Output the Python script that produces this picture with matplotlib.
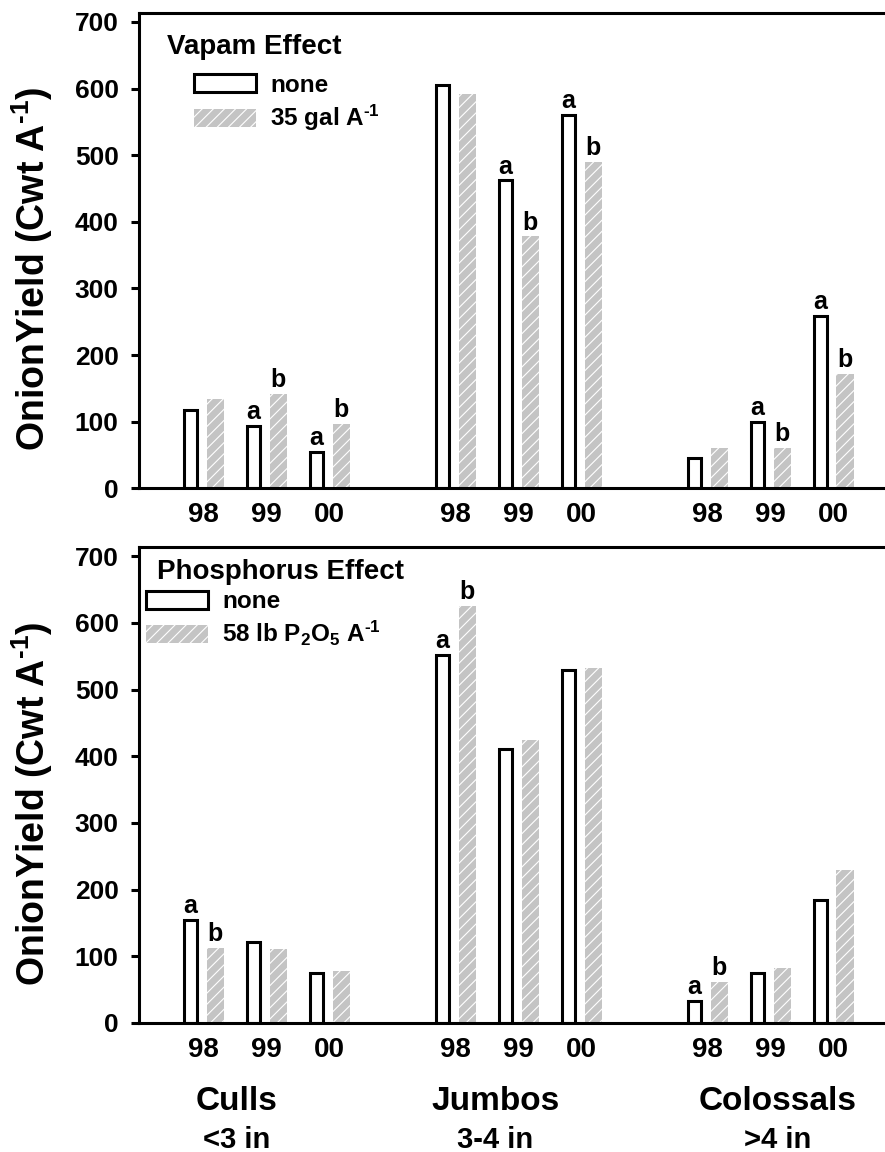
import matplotlib
matplotlib.use('Agg')
import matplotlib.pyplot as plt
from matplotlib.patches import Patch
import numpy as np

plt.rcParams['font.family'] = ['Liberation Sans', 'DejaVu Sans']
plt.rcParams['font.weight'] = 'bold'
plt.rcParams['mathtext.fontset'] = 'custom'
plt.rcParams['mathtext.rm'] = 'Liberation Sans:bold'
plt.rcParams['mathtext.bf'] = 'Liberation Sans:bold'
plt.rcParams['mathtext.default'] = 'bf'
plt.rcParams['hatch.linewidth'] = 0.8

# data
years = ['98', '99', '00']
groups = ['Culls', 'Jumbos', 'Colossals']
sizes = ['<3 in', '3-4 in', '>4 in']

vapam_none = [117, 94, 54, 605, 462, 560, 45, 100, 258]
vapam_35 = [134, 142, 97, 592, 378, 490, 61, 61, 171]
vapam_none_let = ['', 'a', 'a', '', 'a', 'a', '', 'a', 'a']
vapam_35_let = ['', 'b', 'b', '', 'b', 'b', '', 'b', 'b']

phos_none = [154, 122, 75, 552, 411, 530, 33, 75, 184]
phos_58 = [113, 111, 78, 625, 425, 533, 61, 83, 229]
phos_none_let = ['a', '', '', 'a', '', '', 'a', '', '']
phos_58_let = ['b', '', '', 'b', '', '', 'b', '', '']

xpos = np.array([g * 4 + i for g in range(3) for i in range(3)])
xlabels = years * 3

gray = '#c4c4c4'
lw = 2.2

fig = plt.figure(figsize=(8.85, 11.52), dpi=100)
ax1 = fig.add_axes([0.1576, 0.5761, 0.8424, 0.4130])
ax2 = fig.add_axes([0.1576, 0.1120, 0.8424, 0.4132])


def draw(ax, none, trt, none_let, trt_let):
    ax.bar(xpos - 0.205, none, width=0.2, facecolor='white', edgecolor='black', linewidth=lw, zorder=2)
    ax.bar(xpos + 0.19, trt, width=0.28, facecolor=gray, edgecolor='white', hatch='///', linewidth=0, zorder=2)
    for x, v, t in zip(xpos - 0.205, none, none_let):
        if t:
            ax.annotate(t, (x, v), xytext=(0, 5), textcoords='offset points', ha='center', va='baseline', fontsize=18, fontweight='bold')
    for x, v, t in zip(xpos + 0.19, trt, trt_let):
        if t:
            ax.annotate(t, (x, v), xytext=(0, 5), textcoords='offset points', ha='center', va='baseline', fontsize=18, fontweight='bold')
    ax.set_xlim(-1.016, 10.82)
    ax.set_ylim(0, 714)
    ax.set_yticks(range(0, 701, 100))
    ax.set_yticklabels([str(v) for v in range(0, 701, 100)], fontsize=19, fontweight='bold')
    ax.set_xticks(xpos, xlabels, fontsize=20, fontweight='bold')
    ax.tick_params(axis='x', length=0, pad=10)
    ax.tick_params(axis='y', direction='out', length=6, width=lw, pad=9)
    for s in ['left', 'top', 'bottom']:
        ax.spines[s].set_linewidth(lw)
    ax.spines['right'].set_visible(False)


draw(ax1, vapam_none, vapam_35, vapam_none_let, vapam_35_let)
draw(ax2, phos_none, phos_58, phos_none_let, phos_58_let)

ylab = r'OnionYield (Cwt A$^{\text{-}1}$)'
fig.text(0.036, 1 - 269 / 1152, ylab, rotation=90, ha='center', va='center', fontsize=27, fontweight='bold')
fig.text(0.036, 1 - 804 / 1152, ylab, rotation=90, ha='center', va='center', fontsize=27, fontweight='bold')

# legends
h_none = Patch(facecolor='white', edgecolor='black', linewidth=lw)
h_vap = Patch(facecolor=gray, edgecolor='white', hatch='///', linewidth=0)

ax1.text(0.0369, 0.927, 'Vapam Effect', transform=ax1.transAxes, ha='left', va='center', fontsize=20, fontweight='bold')
ax1.legend([h_none, h_vap], ['none', r'35 gal A$^{\text{-}1}$'], loc='upper left', bbox_to_anchor=(0.0731, 0.871),
           frameon=False, borderpad=0, borderaxespad=0, handlelength=2.54, handleheight=0.76,
           handletextpad=0.6, labelspacing=0.25, prop={'weight': 'bold', 'size': 17.5})

ax2.text(0.0235, 0.947, 'Phosphorus Effect', transform=ax2.transAxes, ha='left', va='center', fontsize=20, fontweight='bold')
ax2.legend([h_none, h_vap], ['none', r'58 lb P$_2$O$_5$ A$^{\text{-}1}$'], loc='upper left', bbox_to_anchor=(0.0087, 0.909),
           frameon=False, borderpad=0, borderaxespad=0, handlelength=2.54, handleheight=0.76,
           handletextpad=0.6, labelspacing=0.25, prop={'weight': 'bold', 'size': 17.5})

# category labels under bottom panel
for gx, g, s in zip([0.53, 4.63, 9.12], groups, sizes):
    xf = ax2.transData.transform((gx, 0))[0] / fig.bbox.width
    fig.text(xf, 1 - 1101.7 / 1152, g, ha='center', va='center', fontsize=24, fontweight='bold')
    fig.text(xf, 1 - 1140 / 1152, s, ha='center', va='center', fontsize=21, fontweight='bold')

fig.savefig('out.png', dpi=100)
